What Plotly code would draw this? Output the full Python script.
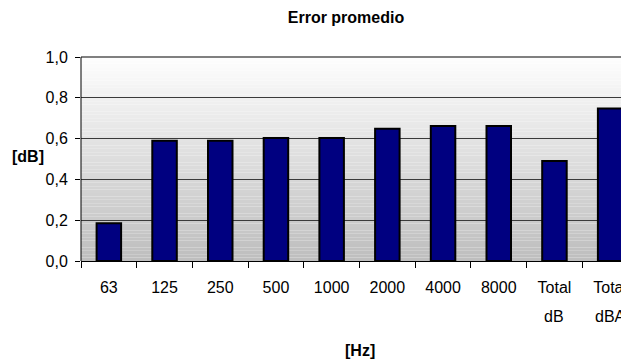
import plotly.graph_objects as go

categories = ["63", "125", "250", "500", "1000", "2000", "4000", "8000", "Total dB", "Total dBA"]
values = [0.185, 0.59, 0.59, 0.603, 0.603, 0.648, 0.662, 0.662, 0.49, 0.748]
y_ticks = [0.0, 0.2, 0.4, 0.6, 0.8, 1.0]

FONT = "Liberation Sans, Arial, sans-serif"

first_lines = [c.split(" ")[0] for c in categories]

fig = go.Figure()
fig.add_trace(go.Bar(
    x=categories, y=values, width=0.44,
    marker=dict(color="#000080", line=dict(color="#000000", width=2)),
))

# gradient background of the plot area
shapes = []
n = 60
for i in range(n):
    t = i / (n - 1)
    c = int(round(253 - (253 - 190) * (1 - t)))
    shapes.append(dict(type="rect", xref="x domain", yref="y domain",
                       x0=0, x1=1, y0=i / n, y1=(i + 1) / n,
                       fillcolor=f"rgb({c},{c},{c})", line=dict(width=0),
                       layer="below"))
shapes.append(dict(type="line", xref="x domain", yref="y domain", x0=0, x1=1, y0=1, y1=1,
                   line=dict(color="#808080", width=2), layer="above"))
shapes.append(dict(type="line", xref="x domain", yref="y domain", x0=0, x1=0, y0=0, y1=1,
                   line=dict(color="#000000", width=1), layer="above"))

annotations = [
    dict(text="<b>[dB]</b>", xref="paper", yref="paper", x=-0.13, y=0.51,
         xanchor="left", yanchor="middle", showarrow=False,
         font=dict(family=FONT, size=16, color="#000")),
    dict(text="<b>[Hz]</b>", xref="paper", yref="paper", x=0.51, y=-0.441,
         xanchor="center", yanchor="middle", showarrow=False,
         font=dict(family=FONT, size=16, color="#000")),
]
for c in categories:
    parts = c.split(" ")
    if len(parts) > 1:
        annotations.append(dict(text=parts[1], x=c, xref="x", yref="paper", y=-0.274,
                                xanchor="center", yanchor="middle", showarrow=False,
                                font=dict(family=FONT, size=16, color="#000")))

n_cat = len(categories)
fig.update_layout(
    width=621, height=353,
    margin=dict(l=73, r=0, t=49, b=100),
    paper_bgcolor="#ffffff", plot_bgcolor="rgba(0,0,0,0)",
    separators=",.",
    showlegend=False,
    title=dict(text="<b>Error promedio</b>", x=338 / 621, xanchor="center", y=1 - 9 / 353, yanchor="middle",
               font=dict(family=FONT, size=16, color="#000")),
    shapes=shapes,
    annotations=annotations,
)
fig.update_xaxes(
    type="category", range=[-0.5, n_cat - 0.5 - 9 / 55.7], automargin=False,
    tickmode="array", tickvals=categories, ticktext=first_lines,
    tickson="boundaries", ticks="outside", ticklen=6, tickcolor="#000",
    ticklabelstandoff=12,
    showline=True, linecolor="#000", linewidth=1, showgrid=False,
    tickfont=dict(family=FONT, size=16, color="#000"),
)
fig.update_yaxes(
    range=[0, 1.0], tickvals=y_ticks, tickformat=".1f", automargin=False,
    ticks="outside", ticklen=5, tickcolor="#000",
    ticklabelstandoff=4,
    showline=False, showgrid=True, gridcolor="#3a3a3a", gridwidth=1,
    zeroline=False,
    tickfont=dict(family=FONT, size=16, color="#000"),
)
fig.write_html("out.html")
